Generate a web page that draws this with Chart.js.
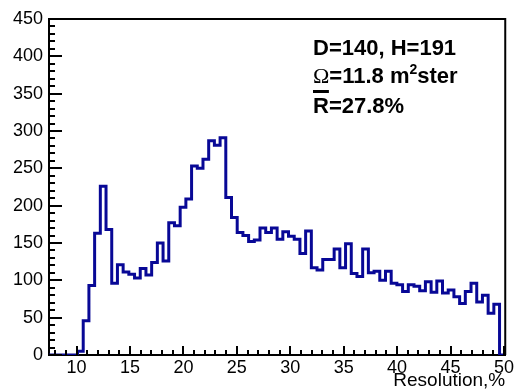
<!DOCTYPE html>
<html>
<head>
<meta charset="utf-8">
<script src="https://cdn.jsdelivr.net/npm/chart.js@4.4.0/dist/chart.umd.min.js"></script>
<style>
  body { margin: 0; background: #fff; }
  #wrap { width: 516px; height: 392px; }
</style>
</head>
<body>
<div id="wrap"><canvas id="hist" width="516" height="392"></canvas></div>
<script>
// 80 equal bins spanning the whole x axis
const xLow = 7.42;
const xHigh = 50.12;
const nBins = 80;

// entries per bin, left to right
const counts = [
  0, 0, 0, 0, 0, 5,
  46, 93, 163, 226, 168,
  96, 121, 111, 108, 103,
  116, 107, 124, 150, 126,
  177, 173, 198, 209, 253,
  250, 262, 287, 281, 291,
  211, 184, 164, 160, 152,
  154, 170, 164, 170, 155,
  165, 159, 155, 136, 166,
  117, 114, 128, 128, 142,
  117, 149, 109, 105, 142,
  110, 112, 100, 112, 96,
  94, 85, 94, 92, 86,
  98, 84, 99, 83, 87,
  78, 69, 85, 96, 71,
  80, 56, 68, 0
];

const xTicks = [10, 15, 20, 25, 30, 35, 40, 45, 50];
const yTicks = [0, 50, 100, 150, 200, 250, 300, 350, 400, 450];
const xTitle = 'Resolution,%';

const FONT = "'Liberation Sans', Arial, Helvetica, sans-serif";

// step points at each bin low edge; the value holds until the next edge
const binW = (xHigh - xLow) / nBins;
const points = counts.map(function (c, i) {
  return { x: xLow + i * binW, y: c };
});
points.push({ x: xHigh, y: counts[counts.length - 1] });

// ROOT-like frame: inward ticks, closed box, stats text
const rootFrame = {
  id: 'rootFrame',
  afterDraw(chart) {
    const { ctx, chartArea: a, scales: { x, y } } = chart;
    ctx.save();
    ctx.strokeStyle = '#000';
    ctx.lineWidth = 2;
    ctx.beginPath();
    for (let v = Math.ceil(xLow); v <= xHigh; v++) {
      const px = Math.round(x.getPixelForValue(v));
      const len = v % 5 === 0 ? 9 : 5;
      ctx.moveTo(px, a.bottom);
      ctx.lineTo(px, a.bottom - len);
    }
    for (let v = 0; v <= 450; v += 10) {
      const py = Math.round(y.getPixelForValue(v));
      const len = v % 50 === 0 ? 13 : 6;
      ctx.moveTo(a.left, py);
      ctx.lineTo(a.left + len, py);
    }
    ctx.stroke();

    ctx.beginPath();
    ctx.moveTo(a.left, a.top);
    ctx.lineTo(a.right, a.top);
    ctx.lineTo(a.right, a.bottom);
    ctx.stroke();

    // info box
    const tx = a.left + 264;
    ctx.fillStyle = '#000';
    ctx.textBaseline = 'alphabetic';
    ctx.textAlign = 'left';
    const bold = 'bold 22px ' + FONT;

    ctx.font = bold;
    ctx.fillText('D=140, H=191', tx, 55);

    let cx = tx;
    ctx.font = "22px 'Liberation Serif', 'DejaVu Serif', serif";
    ctx.fillText('\u03A9', cx, 83);
    cx += ctx.measureText('\u03A9').width;
    ctx.font = bold;
    ctx.fillText('=11.8 m', cx, 83);
    cx += ctx.measureText('=11.8 m').width;
    ctx.font = 'bold 14px ' + FONT;
    ctx.fillText('2', cx, 74);
    cx += ctx.measureText('2').width;
    ctx.font = bold;
    ctx.fillText('ster', cx, 83);

    ctx.fillText('R=27.8%', tx, 113);
    const rw = ctx.measureText('R').width;
    ctx.fillRect(tx, 90, rw, 3);
    ctx.restore();
  }
};

new Chart(document.getElementById('hist'), {
  type: 'line',
  data: {
    datasets: [{
      data: points,
      stepped: 'before',
      borderColor: 'rgb(8, 8, 150)',
      borderWidth: 3,
      borderJoinStyle: 'miter',
      pointRadius: 0,
      fill: false
    }]
  },
  options: {
    responsive: false,
    animation: false,
    layout: { padding: { top: 19, right: 8, left: 0, bottom: 0 } },
    plugins: { legend: { display: false }, tooltip: { enabled: false } },
    scales: {
      x: {
        type: 'linear',
        min: xLow,
        max: xHigh,
        afterBuildTicks: function (s) { s.ticks = xTicks.map(v => ({ value: v })); },
        afterFit: function (s) { s.height = 37; },
        grid: { display: false, drawTicks: false },
        border: { display: true, color: '#000', width: 2 },
        ticks: { color: '#000', padding: 2, maxRotation: 0, autoSkip: false, font: { family: FONT, size: 18 } },
        title: {
          display: true, text: xTitle, align: 'end', color: '#000',
          font: { family: FONT, size: 19 }, padding: { top: 0, bottom: 0 }
        }
      },
      y: {
        min: 0,
        max: 450,
        afterBuildTicks: function (s) { s.ticks = yTicks.map(v => ({ value: v })); },
        afterFit: function (s) { s.width = 49; },
        grid: { display: false, drawTicks: false },
        border: { display: true, color: '#000', width: 2 },
        ticks: { color: '#000', padding: 6, font: { family: FONT, size: 18 } }
      }
    }
  },
  plugins: [rootFrame]
});
</script>
</body>
</html>
